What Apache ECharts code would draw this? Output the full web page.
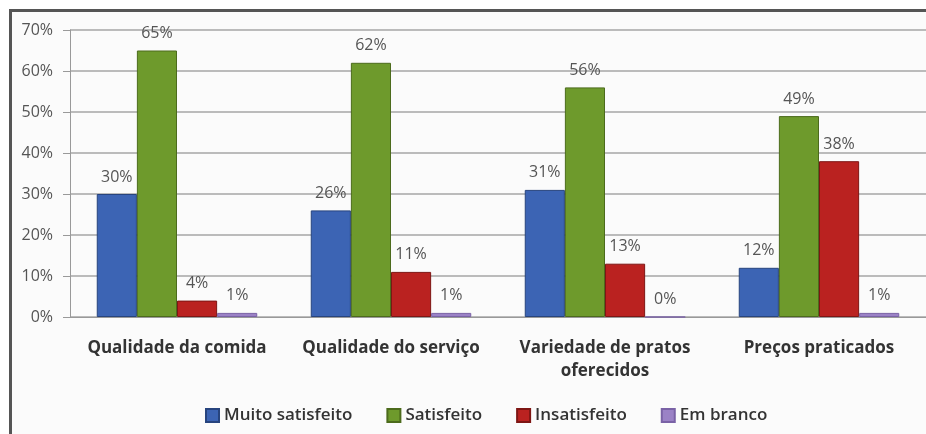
<!DOCTYPE html>
<html>
<head>
<meta charset="utf-8">
<script src="https://cdn.jsdelivr.net/npm/echarts@6/dist/echarts.min.js"></script>
<style>
  html, body { margin: 0; padding: 0; background: #fff; }
  .frame {
    position: absolute; left: 9px; top: 9px; width: 930px; height: 440px;
    border: 3px solid #555; background: #fbfbfb;
  }
  #chart { position: absolute; left: 0; top: 0; width: 926px; height: 434px; }
</style>
</head>
<body>
<div class="frame"></div>
<div id="chart"></div>
<script>
  // categorias e valores (%)
  var categorias = ['Qualidade da comida', 'Qualidade do serviço', 'Variedade de pratos\noferecidos', 'Preços praticados'];
  var muitoSatisfeito = [30, 26, 31, 12];
  var satisfeito = [65, 62, 56, 49];
  var insatisfeito = [4, 11, 13, 38];
  var emBranco = [1, 1, 0, 1];
  var nomes = ['Muito satisfeito', 'Satisfeito', 'Insatisfeito', 'Em branco'];
  var cores = ['#3c64b4', '#6e9a2c', '#ba2220', '#9b82c6'];
  var bordas = ['#27447e', '#4c6b1c', '#7e1614', '#7a62a6'];

  var myChart = echarts.init(document.getElementById('chart'));

  var series = [muitoSatisfeito, satisfeito, insatisfeito, emBranco].map(function (d, i) {
    return {
      name: nomes[i],
      type: 'bar',
      data: d,
      barGap: '0%',
      barCategoryGap: '25%',
      itemStyle: { color: cores[i], borderColor: bordas[i], borderWidth: 1 },
      label: {
        show: true,
        position: 'top',
        formatter: '{c}%',
        color: '#555',
        fontSize: 16,
        fontFamily: 'Open Sans',
        distance: 9
      }
    };
  });

  var option = {
    animation: false,
    color: cores,
    grid: { left: 70, top: 30, right: 0, bottom: 117 },
    legend: {
      data: nomes,
      icon: 'rect',
      bottom: 5,
      left: 200,
      itemWidth: 13,
      itemHeight: 13,
      itemGap: 34,
      textStyle: { color: '#333', fontSize: 17, fontFamily: 'Open Sans', fontWeight: 600 }
    },
    xAxis: {
      type: 'category',
      data: categorias,
      axisLine: { lineStyle: { color: '#999' } },
      axisTick: { show: false },
      axisLabel: { interval: 0, color: '#333', fontSize: 17, fontWeight: 'bold', fontFamily: 'Open Sans', margin: 20, lineHeight: 23 }
    },
    yAxis: {
      type: 'value',
      min: 0,
      max: 70,
      interval: 10,
      axisLine: { show: true, lineStyle: { color: '#999' } },
      axisTick: { show: true, inside: false, length: 7, lineStyle: { color: '#999' } },
      splitLine: { lineStyle: { color: '#bbb', width: 2 } },
      axisLabel: { formatter: '{value}%', color: '#555', fontSize: 16, fontFamily: 'Open Sans', margin: 17 }
    },
    series: series
  };

  myChart.setOption(option);
</script>
</body>
</html>
